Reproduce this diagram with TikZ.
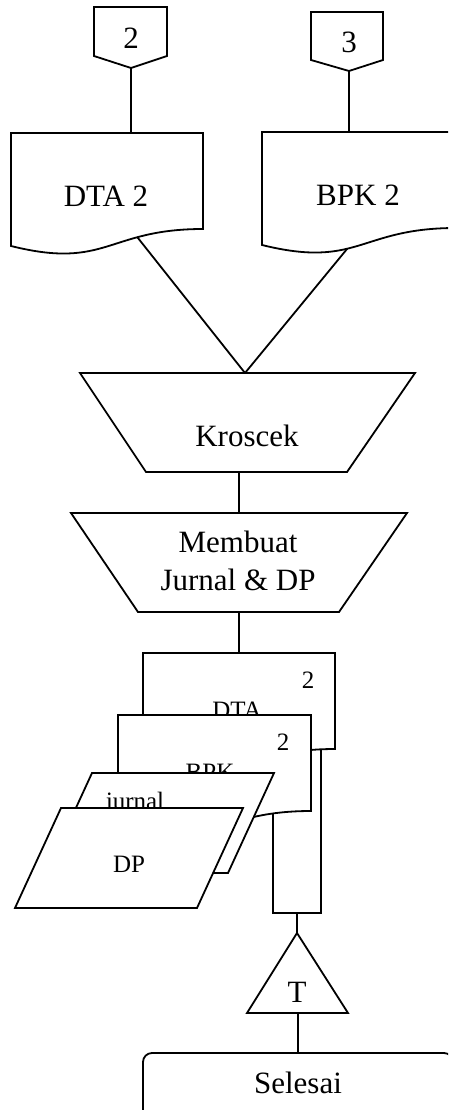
\documentclass[tikz,border=0pt]{standalone}
\usepackage{fontspec}
\setmainfont{Liberation Serif}
\begin{document}
\begin{tikzpicture}[x=1pt,y=-1pt,line width=1.8pt,
    box/.style={draw,fill=white},
    lbl/.style={inner sep=0pt,font=\fontsize{31}{38}\selectfont},
    slbl/.style={inner sep=0pt,font=\fontsize{25}{30}\selectfont}]
      \useasboundingbox (0,0) rectangle (448,1110);
      \clip (0,0) rectangle (448,1110);
      % off-page connectors
      \draw[box] (94,7) -- (167,7) -- (167,56) -- (131,68) coordinate (pg2-out) -- (94,56) -- cycle;
      \node[lbl] (pg2) at (131,38) {2};
      \draw[box] (311,12) -- (383,12) -- (383,60) -- (349,71) coordinate (pg3-out) -- (311,60) -- cycle;
      \node[lbl] (pg3) at (349,42) {3};
      % documents in
      \draw[box] (11,133) -- (203,133) -- (203,229) .. controls (107,229) and (107,270) .. (11,246) coordinate[pos=0.3] (dta2-out) -- cycle;
      \coordinate (dta2-in) at (131,133);
      \node[lbl] (dta2) at (106,196) {DTA 2};
      \draw[box] (262,132) -- (456,132) -- (456,228) .. controls (359,228) and (359,269) .. (262,245) coordinate[pos=0.58] (bpk2-out) -- cycle;
      \coordinate (bpk2-in) at (349,132);
      \node[lbl] (bpk2) at (358,195) {BPK 2};
      % manual operations
      \draw[box] (80,373) -- (415,373) -- (347,472) -- (146,472) -- cycle;
      \coordinate (kro-in) at (245,373);
      \coordinate (kro-out) at (239,472);
      \node[lbl] (kro) at (247,436) {Kroscek};
      \draw[box] (71,513) -- (407,513) -- (339,612) -- (138,612) -- cycle;
      \coordinate (mjd-in) at (239,513);
      \coordinate (mjd-out) at (239,612);
      \node[lbl,align=center] (mjd) at (238,561) {Membuat\\Jurnal \& DP};
      % documents out
      \draw[box] (273,740) rectangle (321,913);
      \coordinate (arc-out) at (297,913);
      \draw[box] (143,653) -- (335,653) -- (335,749) .. controls (239,749) and (239,790) .. (143,766) -- cycle;
      \coordinate (dta-in) at (239,653);
      \node[slbl] (dta-no) at (308,680) {2};
      \node[slbl,anchor=base] (dta) at (237,718) {DTA};
      \draw[box] (118,715) -- (311,715) -- (311,811) .. controls (214,811) and (214,852) .. (118,828) -- cycle;
      \node[slbl] (bpk-no) at (283,742) {2};
      \node[slbl,anchor=base] (bpk) at (210,780) {BPK};
      \draw[box] (92,773) -- (274,773) -- (228,873) -- (46,873) -- cycle;
      \node[slbl,anchor=base] (jur) at (135,809) {jurnal};
      \draw[box] (61,808) -- (243,808) -- (197,908) -- (15,908) -- cycle;
      \node[slbl] (dp) at (129,864) {DP};
      % archive and end
      \draw[box] (297,933) coordinate (arsip-in) -- (348,1013) -- (247,1013) -- cycle;
      \coordinate (arsip-out) at (298,1013);
      \node[lbl] (arsip) at (297,992) {T};
      \draw[box,rounded corners=9pt] (143,1053) rectangle (453,1122);
      \coordinate (end-in) at (298,1053);
      \node[lbl] (end) at (298,1083) {Selesai};
      % connectors
      \draw (pg2-out) -- (dta2-in);
      \draw (pg3-out) -- (bpk2-in);
      \draw (dta2-out) -- (kro-in);
      \draw (bpk2-out) -- (kro-in);
      \draw (kro-out) -- (mjd-in);
      \draw (mjd-out) -- (dta-in);
      \draw (arc-out) -- (arsip-in);
      \draw (arsip-out) -- (end-in);
\end{tikzpicture}
\end{document}
